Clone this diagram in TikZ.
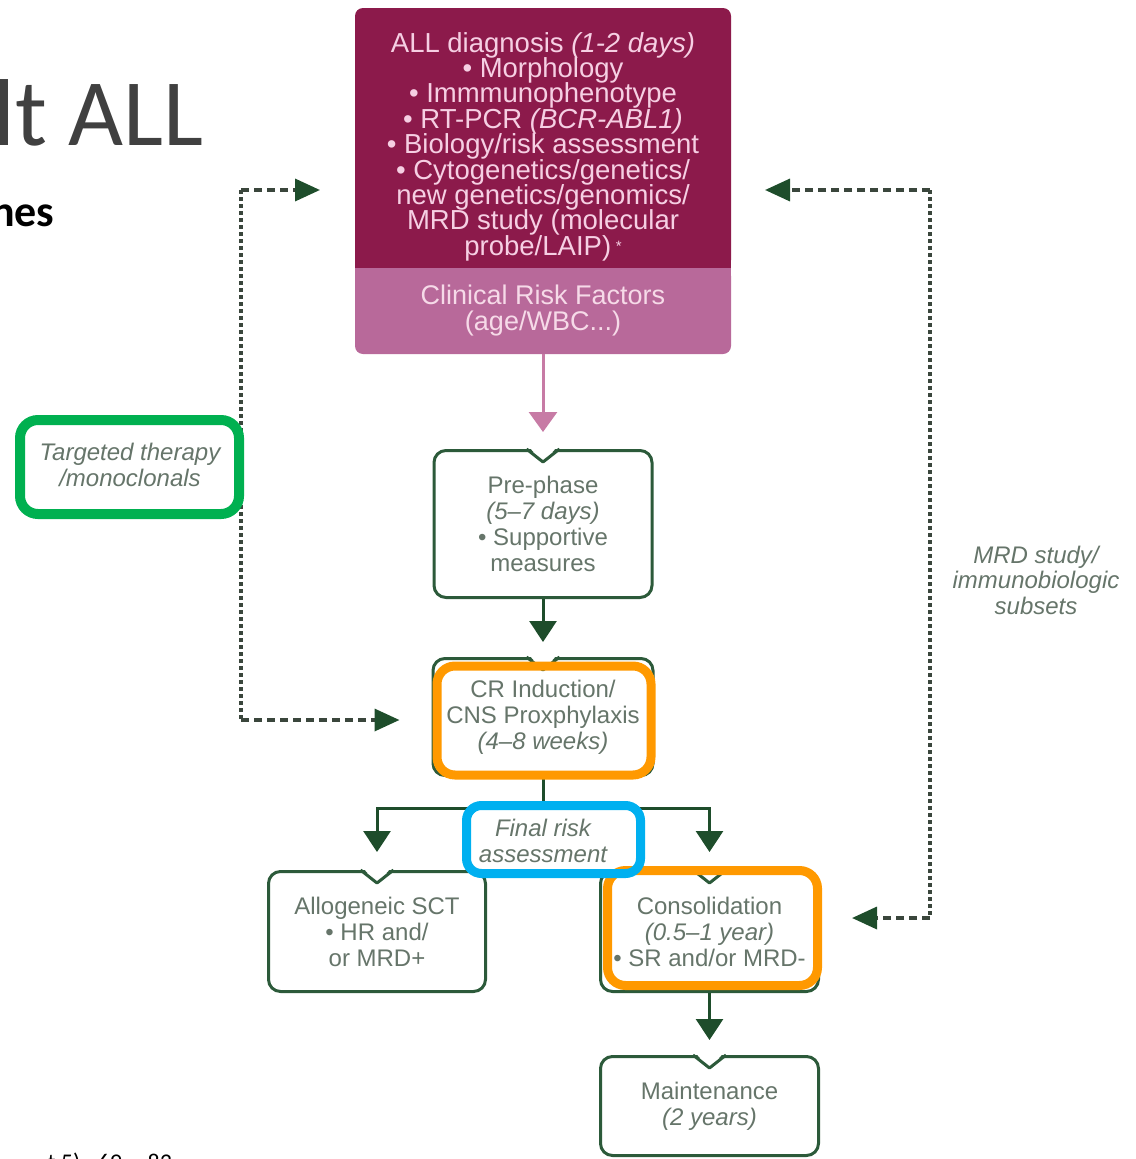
\documentclass[tikz,border=0pt]{standalone}
\usepackage{fontspec}
\setmainfont{Liberation Sans}
\newfontfamily\slidefont{Carlito}
\usetikzlibrary{arrows.meta,positioning}

\definecolor{diagred}{HTML}{8C1A4B}
\definecolor{riskpink}{HTML}{B8699A}
\definecolor{diagtext}{HTML}{F6CFE3}
\definecolor{risktext}{HTML}{F6DAE8}
\definecolor{arrowpink}{HTML}{C77BA5}
\definecolor{stagegreen}{HTML}{2C5A3A}
\definecolor{arrowgreen}{HTML}{1E4D2B}
\definecolor{stagetext}{HTML}{66756A}
\definecolor{loopgray}{HTML}{3A463C}
\definecolor{hlgreen}{HTML}{00B050}
\definecolor{hlorange}{HTML}{FF9900}
\definecolor{hlblue}{HTML}{00B0F0}
\definecolor{titlegray}{HTML}{404040}

\newcommand\tightlines{\setlength{\lineskiplimit}{-20pt}}

\tikzset{
  diagbox/.style={fill=diagred, text=diagtext, rounded corners=8pt, align=center,
    minimum width=376pt, inner sep=0pt, outer sep=0pt,
    font=\fontsize{27.5}{25.4}\selectfont\tightlines},
  riskbox/.style={diagbox, fill=riskpink, text=risktext,
    font=\fontsize{27}{26}\selectfont\tightlines},
  stage/.style={draw=stagegreen, line width=3pt, rounded corners=12pt, fill=white,
    text=stagetext, align=center, inner sep=0pt,
    font=\fontsize{24}{26}\selectfont\tightlines},
  note/.style={text=stagetext, align=center,
    font=\itshape\fontsize{24}{25.5}\selectfont\tightlines},
  flow/.style={draw=arrowgreen, line width=3pt, -{Triangle[length=21pt,width=27pt]}},
  pinkflow/.style={draw=arrowpink, line width=3pt, -{Triangle[length=20pt,width=28pt]}},
  loopv/.style={draw=loopgray, line width=3.5pt, dash pattern=on 3.5pt off 3.5pt},
  looph/.style={draw=loopgray, line width=3.5pt, dash pattern=on 8pt off 5pt,
    -{Triangle[length=25pt,width=22pt,color=arrowgreen]}},
  hilite/.style={line width=9pt, rounded corners=18pt},
}

\begin{document}
\begin{tikzpicture}[x=1pt,y=-1pt]
  \useasboundingbox (0,0) rectangle (1135,1159);
  \clip (0,0) rectangle (1135,1159);

  % what is left of the slide around the figure
  \node[anchor=base east, text=titlegray, font=\slidefont\fontsize{95}{100}\selectfont] (title) at (207,145) {lt ALL};
  \node[anchor=base east, font=\slidefont\bfseries\fontsize{44}{50}\selectfont] (subtitle) at (58,226) {nes};
  \node[anchor=base west, font=\slidefont\fontsize{24}{28}\selectfont] (ref) at (44,1170) {t 5):\ \ 69 -- 83};

  % diagnosis block
  \node[diagbox, minimum height=260pt] (diag) at (543,138) {\rule{0pt}{37pt}ALL diagnosis \textit{(1-2 days)}\\
    • Morphology\\ • Immmunophenotype\\ • RT-PCR \textit{(BCR-ABL1)}\\
    • Biology/risk assessment\\ • Cytogenetics/genetics/\\ new genetics/genomics/\\
    MRD study (molecular\\ probe/LAIP)\,{\fontsize{15}{15}\selectfont\raisebox{4pt}{*}}};
  \node[riskbox, minimum height=86pt, below=0pt of diag] (risk) {Clinical Risk Factors\\ (age/WBC...)};
  \fill[diagred] (diag.south west) rectangle ([xshift=9pt,yshift=9pt]diag.south west);
  \fill[diagred] (diag.south east) rectangle ([xshift=-9pt,yshift=9pt]diag.south east);
  \fill[riskpink] (risk.north west) rectangle ([xshift=9pt,yshift=-9pt]risk.north west);
  \fill[riskpink] (risk.north east) rectangle ([xshift=-9pt,yshift=-9pt]risk.north east);

  % treatment stages
  \node[stage, minimum width=218pt, minimum height=147pt] (pre) at (543,524)
    {Pre-phase\\ \textit{(5--7 days)}\\ • Supportive\\ measures};
  \node[stage, minimum width=220pt, minimum height=117pt] (cri) at (543,717)
    {CR Induction/\\ CNS Proxphylaxis\\ \textit{(4--8 weeks)}};
  \node[stage, minimum width=217pt, minimum height=120pt] (allo) at (377,931.5)
    {Allogeneic SCT\\ • HR and/\\ or MRD+};
  \node[stage, minimum width=218pt, minimum height=120pt] (cons) at (709.5,931.5)
    {Consolidation\\ \textit{(0.5--1 year)}\\ • SR and/or MRD-};
  \node[stage, minimum width=218pt, minimum height=99pt] (maint) at (709.5,1106)
    {Maintenance\\ \textit{(2 years)}};
  \foreach \n in {pre,cri,allo,cons,maint} {
    \fill[white] ([xshift=-15pt,yshift=3pt]\n.north) -- ([xshift=15pt,yshift=3pt]\n.north)
      -- ([yshift=-13pt]\n.north) -- cycle;
    \draw[stagegreen, line width=3pt, line join=round] ([xshift=-16.5pt]\n.north)
      -- ([yshift=-13pt]\n.north) -- ([xshift=16.5pt]\n.north);
  }

  \node[note] (frisk) at (543,841) {Final risk\\ assessment};
  \node[note] (target) at (130,465) {Targeted therapy\\ /monoclonals};
  \node[note] (mrd) at (1036,580) {MRD study/\\ immunobiologic\\ subsets};

  % main flow
  \draw[pinkflow, shorten >=17pt] (risk.south) -- (pre.north);
  \draw[flow, shorten >=15pt] (pre.south) -- (cri.north);
  \draw[arrowgreen, line width=3pt] (cri.south) -- ++(0,31) coordinate (split);
  \draw[flow, shorten >=18pt] (split) -| (allo.north);
  \draw[flow, shorten >=18pt] (split) -| (cons.north);
  \draw[flow, shorten >=15pt] (cons.south) -- (maint.north);

  % feedback loops
  \coordinate (ltop) at (241,190);
  \coordinate (lbot) at (241,720);
  \coordinate (rtop) at (930,190);
  \coordinate (rbot) at (930,918);
  \draw[loopv] (ltop) -- (lbot);
  \draw[loopv] (rtop) -- (rbot);
  \draw[looph, shorten >=35pt] (ltop) -- (ltop -| diag.west);
  \draw[looph, shorten >=32pt] (lbot) -- (lbot -| cri.west);
  \draw[looph, shorten >=34pt] (rtop) -- (rtop -| diag.east);
  \draw[looph, shorten >=32pt] (rbot) -- (rbot -| cons.east);

  % highlights
  \draw[hilite, hlgreen, line width=10pt] (20,420) rectangle (239,514);
  \draw[hilite, hlorange] (437,666) rectangle (651,775);
  \draw[hilite, hlorange] (607.5,870.5) rectangle (817.5,985.5);
  \draw[hilite, hlblue, rounded corners=15pt] (466.5,805.5) rectangle (640.5,873.5);
\end{tikzpicture}
\end{document}
